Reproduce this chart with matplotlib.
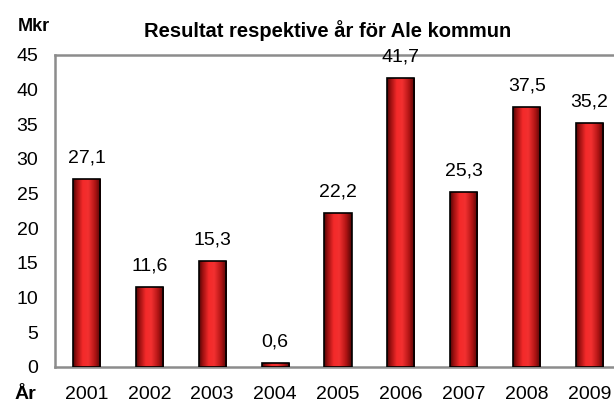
import matplotlib.pyplot as plt
import numpy as np
from matplotlib.colors import LinearSegmentedColormap

years = ['2001', '2002', '2003', '2004', '2005', '2006', '2007', '2008', '2009']
values = [27.1, 11.6, 15.3, 0.6, 22.2, 41.7, 25.3, 37.5, 35.2]
labels = ['27,1', '11,6', '15,3', '0,6', '22,2', '41,7', '25,3', '37,5', '35,2']

plt.rcParams['font.family'] = ['Liberation Sans', 'DejaVu Sans']

fig = plt.figure(figsize=(6.14, 4.08), dpi=100)
ax = fig.add_axes([0.0896, 0.1005, 0.9218, 0.7647])

x = np.arange(len(years))
bars = ax.bar(x, values, width=0.43, color='#e82020', edgecolor='black',
              linewidth=1.2, zorder=3)

# shaded cylinder look
cmap = LinearSegmentedColormap.from_list('redshade', [
    (0.0, '#500505'), (0.12, '#9a1010'), (0.35, '#f42a2a'),
    (0.55, '#f23030'), (0.8, '#b01414'), (1.0, '#500505')])
grad = np.linspace(0, 1, 64).reshape(1, -1)
for b in bars:
    bx, by = b.get_x(), b.get_y()
    im = ax.imshow(grad, cmap=cmap, aspect='auto', zorder=3.5,
                   extent=[bx, bx + b.get_width(), by, by + b.get_height()])
    im.set_clip_path(b)
    b.set_facecolor('none')
    b.set_zorder(4)

for xi, v, lab in zip(x, values, labels):
    ax.annotate(lab, (xi, v), xytext=(0, 9), textcoords='offset points',
                ha='center', va='bottom', fontsize=14)

ax.set_xlim(-0.5, 8.5)
ax.set_ylim(0, 45)
ax.set_yticks(range(0, 46, 5))
ax.set_xticks(x)
ax.set_xticklabels(years)
ax.tick_params(axis='both', length=0, labelsize=14)
ax.tick_params(axis='y', pad=12)
ax.tick_params(axis='x', pad=14)
for s in ['left', 'bottom', 'top']:
    ax.spines[s].set_color('#8c8c8c')
    ax.spines[s].set_linewidth(1.8)
ax.spines['right'].set_visible(False)

fig.text(0.029, 0.935, 'Mkr', fontsize=13, fontweight='bold', ha='left', va='center')
fig.text(0.533, 0.925, 'Resultat respektive år för Ale kommun', fontsize=14.5,
         fontweight='bold', ha='center', va='center')
fig.text(0.023, 0.032, 'År', fontsize=14, fontweight='bold', ha='left', va='center')

fig.savefig('out.png', dpi=100)
